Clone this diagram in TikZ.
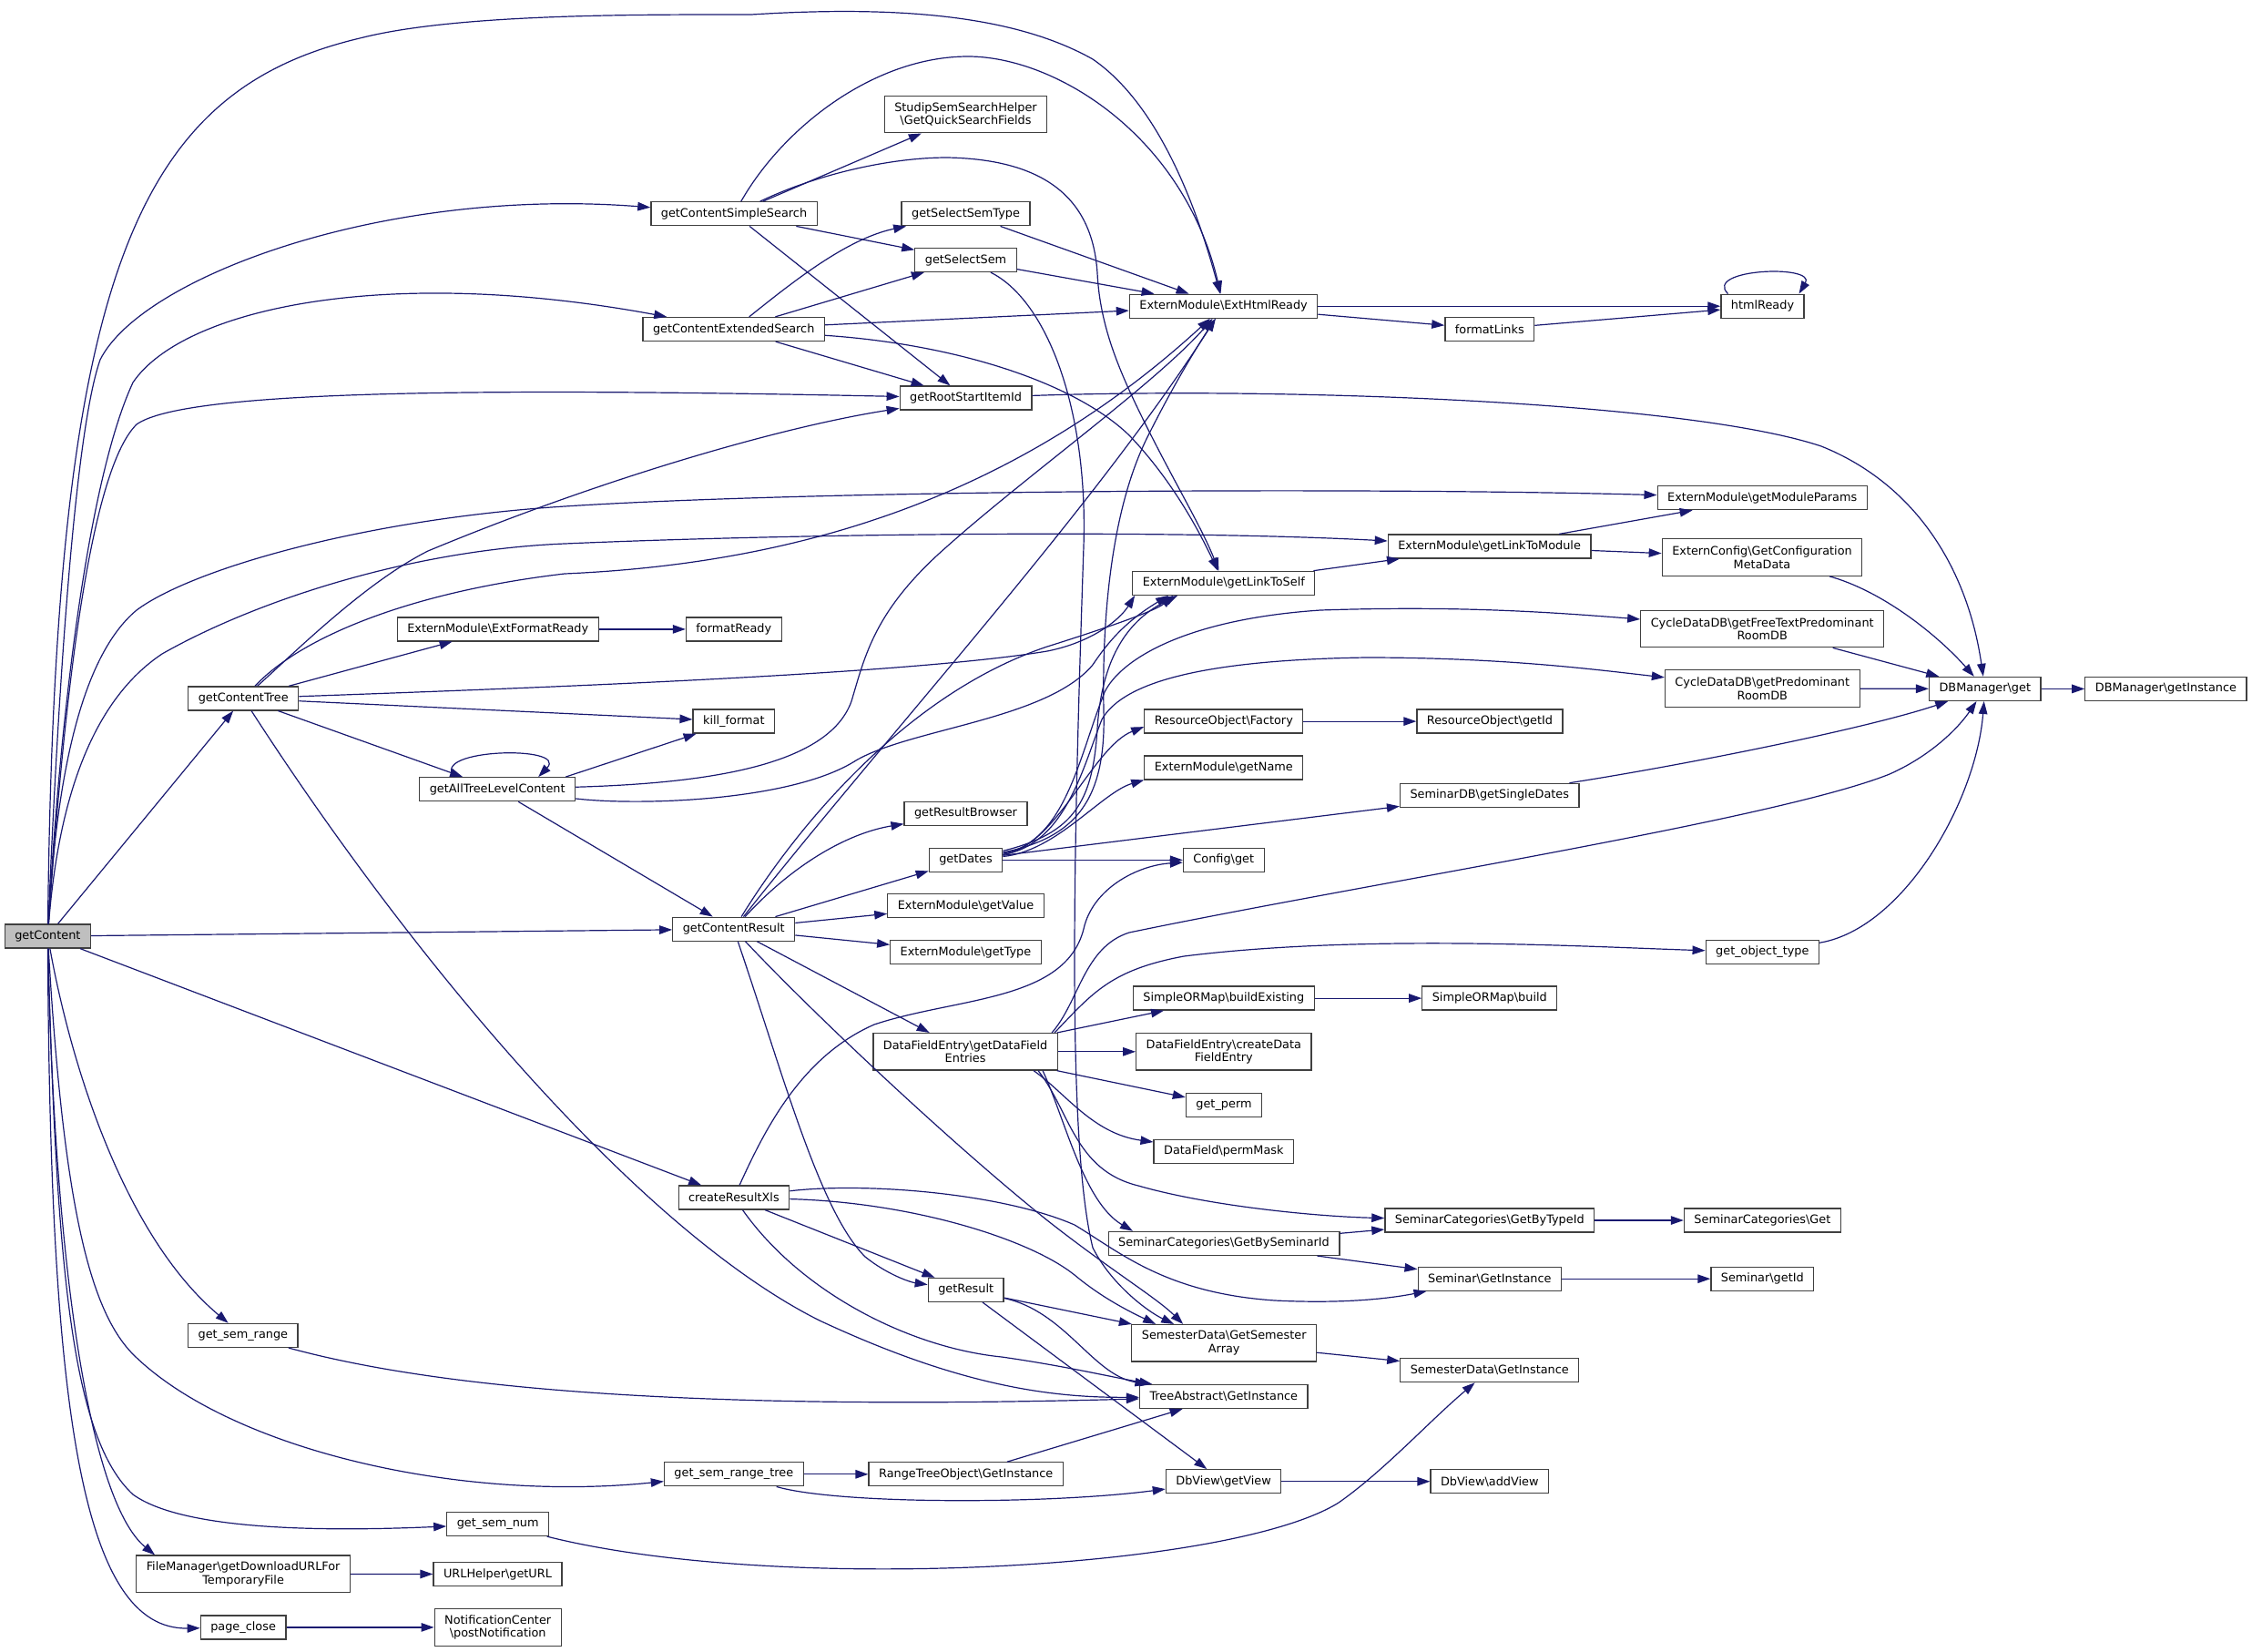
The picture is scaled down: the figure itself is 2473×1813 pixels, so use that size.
\documentclass[tikz,border=0pt]{standalone}
\usepackage{fontspec}
\setmainfont{DejaVu Sans}
\usetikzlibrary{arrows.meta}
\definecolor{edgeblue}{HTML}{191970}
\definecolor{boxgray}{HTML}{404040}
\definecolor{rootgray}{HTML}{BFBFBF}

\begin{document}
\begin{tikzpicture}[
    x=1pt, y=-1pt,
    fn/.style={draw=boxgray,fill=white,line width=1.25pt,inner xsep=11pt,inner ysep=0pt,
      minimum height=26pt,align=center,font=\fontsize{12.85pt}{14.6pt}\selectfont},
    fntwo/.style={fn,minimum height=40.5pt},
    root/.style={fn,fill=rootgray},
    call/.style={draw=edgeblue,line width=1.2pt,-{Triangle[length=14pt,width=9.5pt]}}
    ]
    \useasboundingbox (0,0) rectangle (2473,1813);

    % caller:
    \node[root] (gc) at (52.4,1028) {getContent};

    % first level:
    \node[fn] (gct) at (267.3,766.9) {getContentTree};
    \node[fn] (gsr) at (266.9,1466.4) {get\_sem\_range};
    \node[fntwo] (fm) at (267.1,1728.3) {FileManager\textbackslash getDownloadURLFor\\TemporaryFile};
    \node[fn] (pc) at (267.1,1786.9) {page\_close};

    \node[fn] (efr) at (546.7,690.9) {ExternModule\textbackslash ExtFormatReady};
    \node[fn] (gatlc) at (546.2,866.7) {getAllTreeLevelContent};
    \node[fn] (gsn) at (546.7,1673.5) {get\_sem\_num};
    \node[fn] (url) at (546.5,1728.5) {URLHelper\textbackslash getURL};
    \node[fntwo] (nc) at (546.7,1786.9) {NotificationCenter\\\textbackslash postNotification};

    \node[fn] (gcss) at (806,234.8) {getContentSimpleSearch};
    \node[fn] (gces) at (805.7,361.5) {getContentExtendedSearch};
    \node[fn] (fready) at (805.8,690.9) {formatReady};
    \node[fn] (kf) at (805.8,792.1) {kill\_format};
    \node[fn] (gcr) at (805.7,1020.2) {getContentResult};
    \node[fn] (crx) at (805.9,1315) {createResultXls};
    \node[fn] (gsrt) at (805.8,1618.8) {get\_sem\_range\_tree};

    % middle columns:
    \node[fntwo] (qsf) at (1060.5,125.6) {StudipSemSearchHelper\\\textbackslash GetQuickSearchFields};
    \node[fn] (gsst) at (1060.5,234.8) {getSelectSemType};
    \node[fn] (gss) at (1060.5,285.5) {getSelectSem};
    \node[fn] (grsi) at (1060.6,437) {getRootStartItemId};
    \node[fn] (grb) at (1060.5,893.4) {getResultBrowser};
    \node[fn] (gd) at (1060.5,944.3) {getDates};
    \node[fn] (gv) at (1060.5,994.7) {ExternModule\textbackslash getValue};
    \node[fn] (gt) at (1060.5,1045.6) {ExternModule\textbackslash getType};
    \node[fntwo] (dfe) at (1060.1,1154.8) {DataFieldEntry\textbackslash getDataField\\Entries};
    \node[fn] (gr) at (1060.7,1416.4) {getResult};
    \node[fn] (rto) at (1060.7,1618.8) {RangeTreeObject\textbackslash GetInstance};

    \node[fn] (ehr) at (1343.6,336.2) {ExternModule\textbackslash ExtHtmlReady};
    \node[fn] (glts) at (1343.8,640.3) {ExternModule\textbackslash getLinkToSelf};
    \node[fn] (rof) at (1343.8,792.1) {ResourceObject\textbackslash Factory};
    \node[fn] (gn) at (1343.8,842.9) {ExternModule\textbackslash getName};
    \node[fn] (cg) at (1343.8,944.3) {Config\textbackslash get};
    \node[fn] (sbe) at (1343.8,1096.1) {SimpleORMap\textbackslash buildExisting};
    \node[fntwo] (cdfe) at (1343.8,1154.8) {DataFieldEntry\textbackslash createData\\FieldEntry};
    \node[fn] (gp) at (1344,1213.6) {get\_perm};
    \node[fn] (pm) at (1343.8,1264.4) {DataField\textbackslash permMask};
    \node[fn] (scbs) at (1344,1365.4) {SeminarCategories\textbackslash GetBySeminarId};
    \node[fntwo] (sdga) at (1344.2,1474.8) {SemesterData\textbackslash GetSemester\\Array};
    \node[fn] (tai) at (1343.8,1533.5) {TreeAbstract\textbackslash GetInstance};
    \node[fn] (dgv) at (1343.6,1626.7) {DbView\textbackslash getView};

    % right columns:
    \node[fn] (fl) at (1635.8,361.5) {formatLinks};
    \node[fn] (gltm) at (1635.6,600) {ExternModule\textbackslash getLinkToModule};
    \node[fn] (roid) at (1636,792.1) {ResourceObject\textbackslash getId};
    \node[fn] (sdb) at (1635.8,873.3) {SeminarDB\textbackslash getSingleDates};
    \node[fn] (sb) at (1635.8,1096.1) {SimpleORMap\textbackslash build};
    \node[fn] (scbt) at (1635.8,1340) {SeminarCategories\textbackslash GetByTypeId};
    \node[fn] (sgi) at (1635.8,1404.2) {Seminar\textbackslash GetInstance};
    \node[fn] (sdgi) at (1635.8,1504.6) {SemesterData\textbackslash GetInstance};
    \node[fn] (dav) at (1635.8,1626.7) {DbView\textbackslash addView};

    \node[fn] (hr) at (1935.5,336.2) {htmlReady};
    \node[fn] (gmp) at (1935.2,546.7) {ExternModule\textbackslash getModuleParams};
    \node[fntwo] (ecc) at (1935,612) {ExternConfig\textbackslash GetConfiguration\\MetaData};
    \node[fntwo] (cft) at (1935.2,690.5) {CycleDataDB\textbackslash getFreeTextPredominant\\RoomDB};
    \node[fntwo] (cpr) at (1935.3,756) {CycleDataDB\textbackslash getPredominant\\RoomDB};
    \node[fn] (got) at (1935.3,1045.6) {get\_object\_type};
    \node[fn] (scg) at (1935.4,1340) {SeminarCategories\textbackslash Get};
    \node[fn] (sgid) at (1935.3,1404.2) {Seminar\textbackslash getId};

    \node[fn] (dbg) at (2179.8,756.4) {DBManager\textbackslash get};
    \node[fn] (dbi) at (2378.4,756.4) {DBManager\textbackslash getInstance};

    % straight calls:
    \foreach \a/\b in {gc/gct, gc/gcr, gc/crx, fm/url, pc/nc, gct/efr, gct/kf, gct/gatlc,
        efr/fready, gatlc/gcr, gcss/qsf, gcss/gss, gcss/grsi, gces/gss, gces/ehr, gces/grsi,
        gsst/ehr, gss/ehr, gcr/gd, gcr/gv, gcr/gt, gcr/dfe, crx/gr, gr/sdga, gr/dgv,
        gsrt/rto, rto/tai, ehr/hr, ehr/fl, fl/hr, glts/gltm, gltm/gmp, gltm/ecc, rof/roid,
        gd/sdb, gd/cg, sbe/sb, dfe/sbe, dfe/cdfe, dfe/gp, scbs/scbt, scbs/sgi, scbt/scg,
        sgi/sgid, sdga/sdgi, dgv/dav, cft/dbg, cpr/dbg, dbg/dbi}
      \draw[call] (\a) -- (\b);

    % getContent, upwards:
    \draw[call] (gc) .. controls (60,300) and (150,100) .. (395,42)
      .. controls (500,15) and (700,16) .. (825,16)
      .. controls (1000,5) and (1120,20) .. (1200,65)
      .. controls (1280,120) and (1320,250) .. (ehr);
    \draw[call] (gc) .. controls (62,800) and (80,480) .. (110,395)
      .. controls (155,305) and (420,205) .. (gcss);
    \draw[call] (gc) .. controls (65,800) and (95,530) .. (146,420)
      .. controls (200,340) and (420,290) .. (gces);
    \draw[call] (gc) .. controls (68,800) and (95,520) .. (150,466)
      .. controls (200,430) and (500,425) .. (grsi);
    \draw[call] (gc) .. controls (62,850) and (90,720) .. (150,670)
      .. controls (210,625) and (400,570) .. (620,556)
      .. controls (900,538) and (1500,535) .. (gmp);
    \draw[call] (gc) .. controls (64,880) and (100,770) .. (178,718)
      .. controls (280,660) and (450,604) .. (620,597)
      .. controls (900,585) and (1300,582) .. (gltm);

    % getContent, downwards:
    \draw[call] (gc) .. controls (80,1180) and (140,1360) .. (gsr);
    \draw[call] (gc) .. controls (70,1330) and (100,1440) .. (146,1487)
      .. controls (250,1590) and (500,1650) .. (gsrt);
    \draw[call] (gc) .. controls (62,1400) and (80,1580) .. (146,1641)
      .. controls (200,1680) and (350,1682) .. (gsn);
    \draw[call] (gc) .. controls (60,1400) and (100,1650) .. ([xshift=-97pt]fm.north);
    \draw[call] (gc) .. controls (55,1550) and (90,1790) .. (pc);

    \draw[call] (gsr) .. controls (500,1530) and (800,1548) .. (tai);
    \draw[call] (gsrt) .. controls (920,1652) and (1150,1652) .. (dgv);
    \draw[call] (gsn) .. controls (850,1750) and (1350,1725) .. (1470,1650)
      .. controls (1520,1615) and (1570,1560) .. (sdgi);

    % getContentTree:
    \draw[call] (gct) .. controls (320,720) and (400,640) .. (470,605)
      .. controls (650,530) and (850,470) .. (grsi);
    \draw[call] (gct) .. controls (330,700) and (450,650) .. (620,630)
      .. controls (850,620) and (1100,560) .. (ehr);
    \draw[call] (gct) .. controls (600,755) and (1000,740) .. (1150,715)
      .. controls (1200,705) and (1230,680) .. ([xshift=3pt]glts.south west);
    \draw[call] (gct) .. controls (450,1050) and (700,1350) .. (900,1450)
      .. controls (1050,1520) and (1150,1535) .. (tai);

    % getAllTreeLevelContent:
    \draw[call] ([xshift=-47pt]gatlc.north) .. controls (470,822) and (625,818) .. ([xshift=45pt]gatlc.north);
    \draw[call] ([xshift=75pt]gatlc.north) -- (kf);
    \draw[call] (gatlc) .. controls (780,860) and (910,840) .. (935,770)
      .. controls (950,720) and (960,670) .. (1040,600)
      .. controls (1130,520) and (1270,420) .. (ehr);
    \draw[call] (gatlc) .. controls (700,885) and (870,880) .. (940,835)
      .. controls (1000,800) and (1150,790) .. (1200,730)
      .. controls (1220,700) and (1240,680) .. ([xshift=40pt]glts.south west);

    % search functions:
    \draw[call] (gcss) .. controls (860,140) and (960,62) .. (1063,62)
      .. controls (1160,62) and (1300,150) .. (ehr);
    \draw[call] (gcss) .. controls (900,190) and (980,173) .. (1040,173)
      .. controls (1150,175) and (1200,220) .. (1205,300)
      .. controls (1208,360) and (1230,410) .. (1260,470)
      .. controls (1290,530) and (1320,580) .. (glts);
    \draw[call] (gces) .. controls (870,310) and (930,262) .. (gsst);
    \draw[call] (gces) .. controls (1050,378) and (1180,420) .. (1240,478)
      .. controls (1290,530) and (1320,590) .. (glts);
    \draw[call] (gss) .. controls (1150,330) and (1195,450) .. (1190,600)
      .. controls (1180,900) and (1170,1250) .. (1200,1370)
      .. controls (1220,1410) and (1260,1440) .. ([xshift=-55pt]sdga.north);
    \draw[call] (grsi) .. controls (1400,425) and (1850,440) .. (2000,490)
      .. controls (2100,530) and (2160,620) .. (dbg);

    % getContentResult:
    \draw[call] (gcr) .. controls (980,800) and (1200,560) .. (ehr);
    \draw[call] (gcr) .. controls (880,900) and (1000,760) .. (1150,710)
      .. controls (1220,688) and (1270,670) .. ([xshift=45pt]glts.south west);
    \draw[call] (gcr) .. controls (870,950) and (930,915) .. (grb);
    \draw[call] (gcr) .. controls (860,1180) and (900,1330) .. (950,1380)
      .. controls (975,1400) and (1000,1408) .. (gr);
    \draw[call] (gcr) .. controls (900,1120) and (1050,1260) .. (1150,1340)
      .. controls (1220,1395) and (1270,1425) .. ([xshift=-45pt]sdga.north);

    % getDates:
    \draw[call] (gd) .. controls (1180,920) and (1215,880) .. (1212,780)
      .. controls (1210,680) and (1220,560) .. (1260,480)
      .. controls (1290,420) and (1315,380) .. (ehr);
    \draw[call] (gd) .. controls (1180,915) and (1200,880) .. (1205,800)
      .. controls (1210,720) and (1240,680) .. ([xshift=50pt]glts.south west);
    \draw[call] (gd) .. controls (1170,925) and (1185,830) .. (1213,760)
      .. controls (1230,725) and (1300,680) .. (1450,670)
      .. controls (1600,665) and (1700,672) .. (cft);
    \draw[call] (gd) .. controls (1170,928) and (1190,840) .. (1210,790)
      .. controls (1230,755) and (1300,725) .. (1500,722)
      .. controls (1650,722) and (1750,735) .. (cpr);
    \draw[call] (gd) .. controls (1160,930) and (1200,820) .. ([yshift=-6pt]rof.west);
    \draw[call] (gd) .. controls (1160,935) and (1210,870) .. (gn.south west);

    % createResultXls and getResult:
    \draw[call] (crx) .. controls (840,1240) and (880,1160) .. (960,1125)
      .. controls (1050,1095) and (1170,1100) .. (1190,1020)
      .. controls (1200,975) and (1250,950) .. (cg);
    \draw[call] (crx) .. controls (950,1298) and (1100,1310) .. (1180,1345)
      .. controls (1230,1375) and (1280,1420) .. (1400,1428)
      .. controls (1480,1432) and (1530,1425) .. (sgi);
    \draw[call] (crx) .. controls (1000,1320) and (1130,1360) .. (1180,1400)
      .. controls (1210,1425) and (1240,1440) .. ([xshift=-75pt]sdga.north);
    \draw[call] (crx) .. controls (880,1420) and (1000,1480) .. (1100,1490)
      .. controls (1170,1500) and (1220,1512) .. (tai);
    \draw[call] (gr) .. controls (1170,1440) and (1200,1510) .. (tai);

    % getDataFieldEntries:
    \draw[call] ([xshift=95pt]dfe.north) .. controls (1185,1100) and (1190,1040) .. (1240,1024)
      .. controls (1500,970) and (1950,900) .. (2075,850)
      .. controls (2120,830) and (2150,800) .. (dbg);
    \draw[call] ([xshift=98pt]dfe.north) .. controls (1200,1090) and (1220,1065) .. (1300,1050)
      .. controls (1500,1025) and (1750,1040) .. (got);
    \draw[call] ([xshift=75pt]dfe.south) .. controls (1170,1200) and (1200,1245) .. (pm);
    \draw[call] ([xshift=80pt]dfe.south) .. controls (1175,1220) and (1180,1285) .. (1250,1302)
      .. controls (1330,1325) and (1450,1336) .. (scbt);
    \draw[call] ([xshift=85pt]dfe.south) .. controls (1170,1230) and (1190,1320) .. ([xshift=-100pt]scbs.north);

    % right part:
    \draw[call] ([xshift=-38pt]hr.north) .. controls (1870,295) and (1995,290) .. ([xshift=40pt]hr.north);
    \draw[call] (ecc) .. controls (2070,650) and (2130,700) .. (dbg);
    \draw[call] (sdb) .. controls (1850,840) and (2050,800) .. (dbg);
    \draw[call] (got) .. controls (2090,1020) and (2170,880) .. (dbg);

  \end{tikzpicture}
\end{document}
